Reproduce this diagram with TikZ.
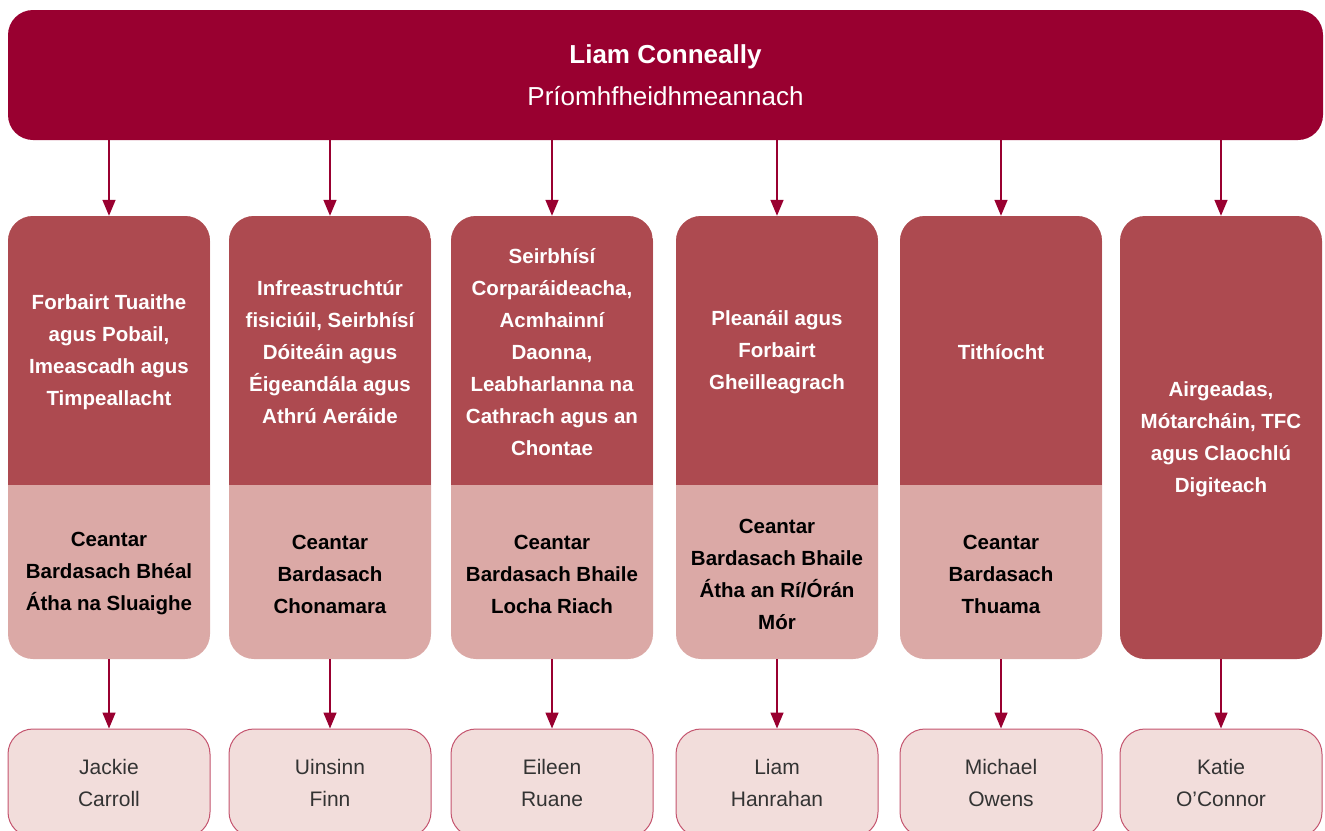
\documentclass[tikz,border=0pt]{standalone}
\usepackage{fontspec}
\setmainfont{Liberation Sans}
\usetikzlibrary{arrows.meta}
\definecolor{ceored}{RGB}{153,0,48}
\definecolor{deptred}{RGB}{173,74,80}
\definecolor{arealight}{RGB}{219,169,166}
\definecolor{namefill}{RGB}{242,221,219}
\definecolor{nameline}{RGB}{196,84,110}
\definecolor{namegray}{RGB}{51,51,51}
\begin{document}
\begin{tikzpicture}[x=1pt,y=-1pt,
  ceobox/.style={fill=ceored, rounded corners=25pt, minimum width=1315pt, minimum height=130pt,
    text=white, align=center, font=\fontsize{26}{42}\selectfont},
  midbox/.style={fill=arealight, rounded corners=25pt, minimum width=202pt, minimum height=443pt,
    path picture={\fill[deptred, sharp corners] (path picture bounding box.north west) rectangle ([yshift=-47.5pt]path picture bounding box.east);}},
  fullbox/.style={fill=deptred, rounded corners=25pt, minimum width=202pt, minimum height=443pt},
  depttext/.style={text=white, align=center, font=\bfseries\fontsize{20.5}{32}\selectfont},
  areatext/.style={text=black, align=center, font=\bfseries\fontsize{20.5}{32}\selectfont},
  namebox/.style={fill=namefill, draw=nameline, line width=1pt, rounded corners=25pt,
    minimum width=202pt, minimum height=108pt, text=namegray, align=center,
    font=\fontsize{21}{32}\selectfont},
  arrow/.style={draw=ceored, line width=1.5pt, -{Triangle[width=13pt,length=16pt]}}]
\useasboundingbox (0,0) rectangle (1325,830);
% chief executive
\node[ceobox] (ceo) at (665.5,75) {\textbf{Liam Conneally}\\Príomhfheidhmeannach};
% directorates
\node[midbox] (m1) at (109,437.5) {};
\node[midbox] (m2) at (330,437.5) {};
\node[midbox] (m3) at (552,437.5) {};
\node[midbox] (m4) at (777,437.5) {};
\node[midbox] (m5) at (1001,437.5) {};
\node[fullbox] (m6) at (1221,437.5) {};
\node[depttext] (d1) at (109,352) {Forbairt Tuaithe\\agus Pobail,\\Imeascadh agus\\Timpeallacht};
\node[depttext] (d2) at (330,352) {Infreastruchtúr\\fisiciúil, Seirbhísí\\Dóiteáin agus\\Éigeandála agus\\Athrú Aeráide};
\node[depttext] (d3) at (552,352) {Seirbhísí\\Corparáideacha,\\Acmhainní\\Daonna,\\Leabharlanna na\\Cathrach agus an\\Chontae};
\node[depttext] (d4) at (777,352) {Pleanáil agus\\Forbairt\\Gheilleagrach};
\node[depttext] (d5) at (1001,352) {Tithíocht};
\node[depttext] (d6) at (1221,439) {Airgeadas,\\Mótarcháin, TFC\\agus Claochlú\\Digiteach};
% municipal districts
\node[areatext] (a1) at (109,574) {Ceantar\\Bardasach Bhéal\\Átha na Sluaighe};
\node[areatext] (a2) at (330,574) {Ceantar\\Bardasach\\Chonamara};
\node[areatext] (a3) at (552,574) {Ceantar\\Bardasach Bhaile\\Locha Riach};
\node[areatext] (a4) at (777,574) {Ceantar\\Bardasach Bhaile\\Átha an Rí/Órán\\Mór};
\node[areatext] (a5) at (1001,574) {Ceantar\\Bardasach\\Thuama};
% directors
\node[namebox] (n1) at (109,783) {Jackie\\Carroll};
\node[namebox] (n2) at (330,783) {Uinsinn\\Finn};
\node[namebox] (n3) at (552,783) {Eileen\\Ruane};
\node[namebox] (n4) at (777,783) {Liam\\Hanrahan};
\node[namebox] (n5) at (1001,783) {Michael\\Owens};
\node[namebox] (n6) at (1221,783) {Katie\\O’Connor};
% connectors
\draw[arrow] (ceo.south -| m1.north) -- (m1.north);
\draw[arrow] (ceo.south -| m2.north) -- (m2.north);
\draw[arrow] (ceo.south -| m3.north) -- (m3.north);
\draw[arrow] (ceo.south -| m4.north) -- (m4.north);
\draw[arrow] (ceo.south -| m5.north) -- (m5.north);
\draw[arrow] (ceo.south -| m6.north) -- (m6.north);
\draw[arrow] (m1.south) -- (n1.north);
\draw[arrow] (m2.south) -- (n2.north);
\draw[arrow] (m3.south) -- (n3.north);
\draw[arrow] (m4.south) -- (n4.north);
\draw[arrow] (m5.south) -- (n5.north);
\draw[arrow] (m6.south) -- (n6.north);
\end{tikzpicture}
\end{document}
